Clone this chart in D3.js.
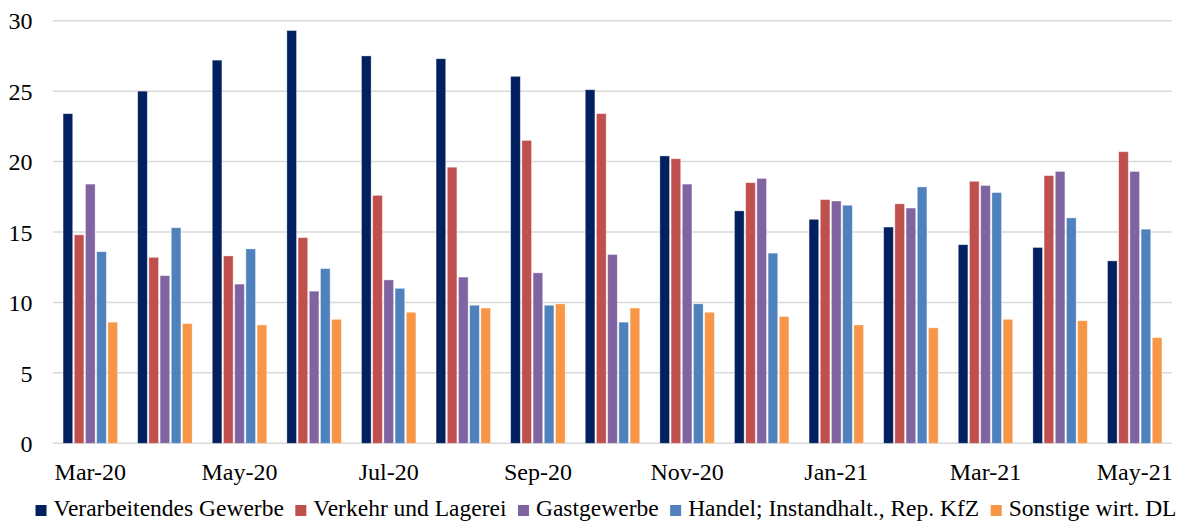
<!DOCTYPE html>
<html>
<head>
<meta charset="utf-8">
<script src="https://cdn.jsdelivr.net/npm/d3@7"></script>
<style>
  html, body { margin: 0; padding: 0; background: #ffffff; }
  svg { display: block; }
</style>
</head>
<body>
<svg id="chart" width="1193" height="521"></svg>
<script>
// Monthly categories
const months = ["Mar-20","Apr-20","May-20","Jun-20","Jul-20","Aug-20","Sep-20","Oct-20",
                "Nov-20","Dec-20","Jan-21","Feb-21","Mar-21","Apr-21","May-21"];

// Axis labels shown on the category axis (every second month)
const monthLabels = ["Mar-20","May-20","Jul-20","Sep-20","Nov-20","Jan-21","Mar-21","May-21"];

// Value axis ticks
const yTicks = [0, 5, 10, 15, 20, 25, 30];

// Series names
const seriesNames = ["Verarbeitendes Gewerbe","Verkehr und Lagerei","Gastgewerbe",
                     "Handel; Instandhalt., Rep. KfZ","Sonstige wirt. DL"];

// Series values per month
const verarbeitendes = [23.4, 25.0, 27.2, 29.3, 27.5, 27.3, 26.05, 25.1, 20.4, 16.5, 15.9, 15.35, 14.1, 13.9, 12.95];
const verkehr        = [14.8, 13.2, 13.3, 14.6, 17.6, 19.6, 21.5, 23.4, 20.2, 18.5, 17.3, 17.0, 18.6, 19.0, 20.7];
const gastgewerbe    = [18.4, 11.9, 11.3, 10.8, 11.6, 11.8, 12.1, 13.4, 18.4, 18.8, 17.2, 16.7, 18.3, 19.3, 19.3];
const handel         = [13.6, 15.3, 13.8, 12.4, 11.0, 9.8, 9.8, 8.6, 9.9, 13.5, 16.9, 18.2, 17.8, 16.0, 15.2];
const sonstige       = [8.6, 8.5, 8.4, 8.8, 9.3, 9.6, 9.9, 9.6, 9.3, 9.0, 8.4, 8.2, 8.8, 8.7, 7.5];

const seriesValues = [verarbeitendes, verkehr, gastgewerbe, handel, sonstige];
const colors = ["#002060", "#C0504D", "#8064A2", "#4F81BD", "#F79646"];

const FONT = '"Liberation Serif"';
const FONT_SIZE = 24;

const svg = d3.select("#chart");

const plot = { left: 53, right: 1172, top: 20.7, bottom: 443.3 };

const x0 = d3.scaleBand()
  .domain(months)
  .range([plot.left, plot.right])
  .paddingInner(0.27)
  .paddingOuter(0.135);

const x1 = d3.scaleBand()
  .domain(d3.range(seriesNames.length))
  .range([0, x0.bandwidth()])
  .paddingInner(0.14);

const y = d3.scaleLinear()
  .domain([0, 30])
  .range([plot.bottom, plot.top]);

// Horizontal gridlines (including the baseline)
svg.append("g")
  .selectAll("line")
  .data(yTicks)
  .join("line")
  .attr("x1", plot.left)
  .attr("x2", plot.right)
  .attr("y1", d => y(d))
  .attr("y2", d => y(d))
  .attr("stroke", "#d9d9d9")
  .attr("stroke-width", 1.5);

// Value axis labels
const yAxis = d3.axisLeft(y).tickValues(yTicks).tickSize(0).tickPadding(0);
const yg = svg.append("g")
  .attr("transform", `translate(${plot.left - 20.5},0)`)
  .call(yAxis);
yg.select(".domain").remove();
yg.selectAll("text")
  .style("font-family", FONT)
  .attr("font-size", FONT_SIZE)
  .attr("fill", "#000")
  .attr("dy", "0.34em");

// Bars
const groups = svg.append("g")
  .selectAll("g")
  .data(months)
  .join("g")
  .attr("transform", d => `translate(${x0(d)},0)`);

groups.selectAll("rect")
  .data((m, i) => seriesValues.map((vals, s) => ({ s, v: vals[i] })))
  .join("rect")
  .attr("x", d => x1(d.s))
  .attr("width", x1.bandwidth())
  .attr("y", d => y(d.v))
  .attr("height", d => y(0) - y(d.v))
  .attr("fill", d => colors[d.s])
  .attr("stroke", "rgba(255,255,255,0.45)")
  .attr("stroke-width", 0.8);

// Category axis labels
const xAxis = d3.axisBottom(x0).tickValues(monthLabels).tickSize(0).tickPadding(0);
const xg = svg.append("g")
  .attr("transform", `translate(0,${plot.bottom})`)
  .call(xAxis);
xg.select(".domain").remove();
xg.selectAll("text")
  .style("font-family", FONT)
  .attr("font-size", FONT_SIZE)
  .attr("fill", "#000")
  .attr("dy", null)
  .attr("y", 36.5);

// Legend along the bottom, laid out from measured text widths and centred
const legend = svg.append("g");
const sq = 11, textOffset = 18, gapItem = 11.5, baseY = 516, legendSize = 23.5;
const items = legend.selectAll("g")
  .data(seriesNames)
  .join("g");
items.append("rect")
  .attr("width", sq)
  .attr("height", sq)
  .attr("y", baseY - sq)
  .attr("fill", (d, i) => colors[i]);
items.append("text")
  .attr("x", textOffset)
  .attr("y", baseY)
  .style("font-family", FONT)
  .attr("font-size", legendSize)
  .attr("fill", "#000")
  .text(d => d);

let cursor = 0;
const widths = [];
items.each(function() {
  const w = textOffset + d3.select(this).select("text").node().getComputedTextLength();
  widths.push(w);
});
const total = d3.sum(widths) + gapItem * (widths.length - 1);
const startX = (25 + 1187) / 2 - total / 2;
items.attr("transform", (d, i) => {
  const tx = startX + cursor;
  cursor += widths[i] + gapItem;
  return `translate(${tx},0)`;
});
</script>
</body>
</html>
